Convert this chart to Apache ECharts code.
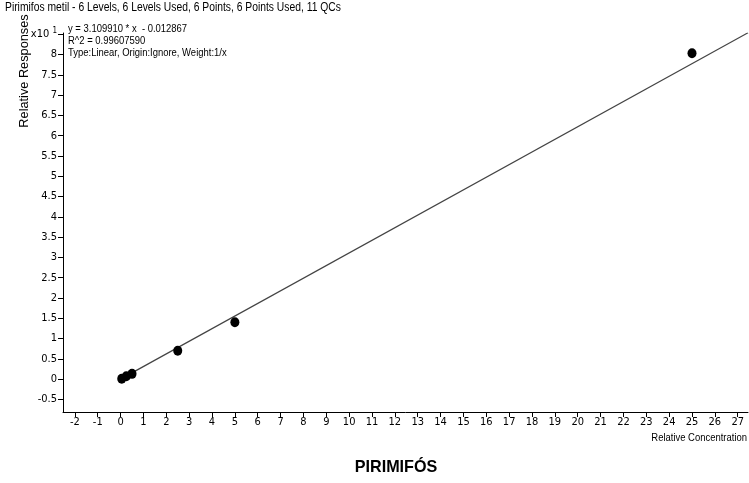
<!DOCTYPE html>
<html>
<head>
<meta charset="utf-8">
<script src="https://cdn.jsdelivr.net/npm/echarts@6/dist/echarts.min.js"></script>
<style>
  html, body { margin: 0; padding: 0; background: #fff; }
  #chart { width: 749px; height: 483px; }
</style>
</head>
<body>
<div id="chart"></div>
<script>
// Calibration levels (relative concentration) and their relative responses (x10^1)
const concentrations = [0.05, 0.25, 0.5, 2.5, 5, 25];
const responses = [0.01, 0.07, 0.13, 0.70, 1.40, 8.03];

// Fitted calibration line end points
const fitLine = [[0, 0.0], [27.45, 8.535]];

// Tick values
const xTicks = [-2, -1, 0, 1, 2, 3, 4, 5, 6, 7, 8, 9, 10, 11, 12, 13, 14, 15, 16, 17, 18, 19, 20, 21, 22, 23, 24, 25, 26, 27];
const yTicks = [-0.5, 0, 0.5, 1, 1.5, 2, 2.5, 3, 3.5, 4, 4.5, 5, 5.5, 6, 6.5, 7, 7.5, 8, 8.5];

// Text
const headerText = 'Pirimifos metil - 6 Levels, 6 Levels Used, 6 Points, 6 Points Used, 11 QCs';
const fitText = ['y = 3.109910 * x  - 0.012867', 'R^2 = 0.99607590', 'Type:Linear, Origin:Ignore, Weight:1/x'];
const yName = 'Relative Responses';
const xName = 'Relative Concentration';
const compoundName = 'PIRIMIFÓS';

const AXIS_FONT = '"DejaVu Sans Condensed", "Liberation Sans", sans-serif';
const TEXT_FONT = '"Liberation Sans", Arial, sans-serif';
const NARROW = 0.86;

const chart = echarts.init(document.getElementById('chart'), null, { renderer: 'canvas' });

const axisLine = { show: true, onZero: false, lineStyle: { color: '#000', width: 1 } };

// Text drawn with a horizontally condensed face
function narrowText(x, y, text, opts) {
  opts = opts || {};
  return {
    type: 'text',
    x: x,
    y: y,
    scaleX: opts.scaleX || NARROW,
    rotation: opts.rotation || 0,
    style: {
      text: text,
      font: opts.font || ('11px ' + TEXT_FONT),
      fill: '#000',
      align: opts.align || 'left',
      verticalAlign: opts.verticalAlign || 'top',
      lineHeight: opts.lineHeight
    }
  };
}

chart.setOption({
  animation: false,
  backgroundColor: '#fff',
  grid: { left: 63, right: 1, top: 33, bottom: 71 },
  xAxis: {
    type: 'value',
    min: -2.52,
    max: 27.45,
    splitLine: { show: false },
    axisLine: axisLine,
    axisTick: { show: true, length: 5, customValues: xTicks, lineStyle: { color: '#000' } },
    axisLabel: {
      customValues: xTicks,
      margin: 5,
      color: '#000',
      fontFamily: AXIS_FONT,
      fontSize: 11
    }
  },
  yAxis: {
    type: 'value',
    min: -0.81,
    max: 8.53,
    splitLine: { show: false },
    axisLine: axisLine,
    axisTick: { show: true, length: 5, customValues: yTicks, lineStyle: { color: '#000' } },
    axisLabel: {
      customValues: yTicks,
      margin: 6,
      color: '#000',
      fontFamily: AXIS_FONT,
      fontSize: 11,
      formatter: function (v) {
        if (v === 8.5) return '{b|x10 }{s|1}';
        return String(v);
      },
      rich: {
        b: { fontFamily: AXIS_FONT, fontSize: 11, color: '#000' },
        s: { fontFamily: AXIS_FONT, fontSize: 8, color: '#000', verticalAlign: 'top', padding: [0, 0, 6, 0] }
      }
    }
  },
  series: [
    {
      type: 'line',
      data: fitLine,
      showSymbol: false,
      lineStyle: { color: '#444', width: 1.2 },
      silent: true,
      z: 2
    },
    {
      type: 'scatter',
      data: concentrations.map((c, i) => [c, responses[i]]),
      symbol: 'circle',
      symbolSize: [9, 10],
      itemStyle: { color: '#000', opacity: 1 },
      z: 3
    }
  ],
  graphic: [
    narrowText(5, 2, headerText, { font: '12px ' + TEXT_FONT }),
    narrowText(68, 23, fitText.join('\n'), { lineHeight: 12 }),
    narrowText(24, 71, yName, { rotation: Math.PI / 2, align: 'center', verticalAlign: 'middle', scaleX: 0.98, font: '13px ' + TEXT_FONT }),
    narrowText(747, 432, xName, { align: 'right' }),
    narrowText(396, 467, compoundName, { align: 'center', verticalAlign: 'middle', scaleX: 0.95, font: 'bold 17px ' + TEXT_FONT })
  ]
});
</script>
</body>
</html>
